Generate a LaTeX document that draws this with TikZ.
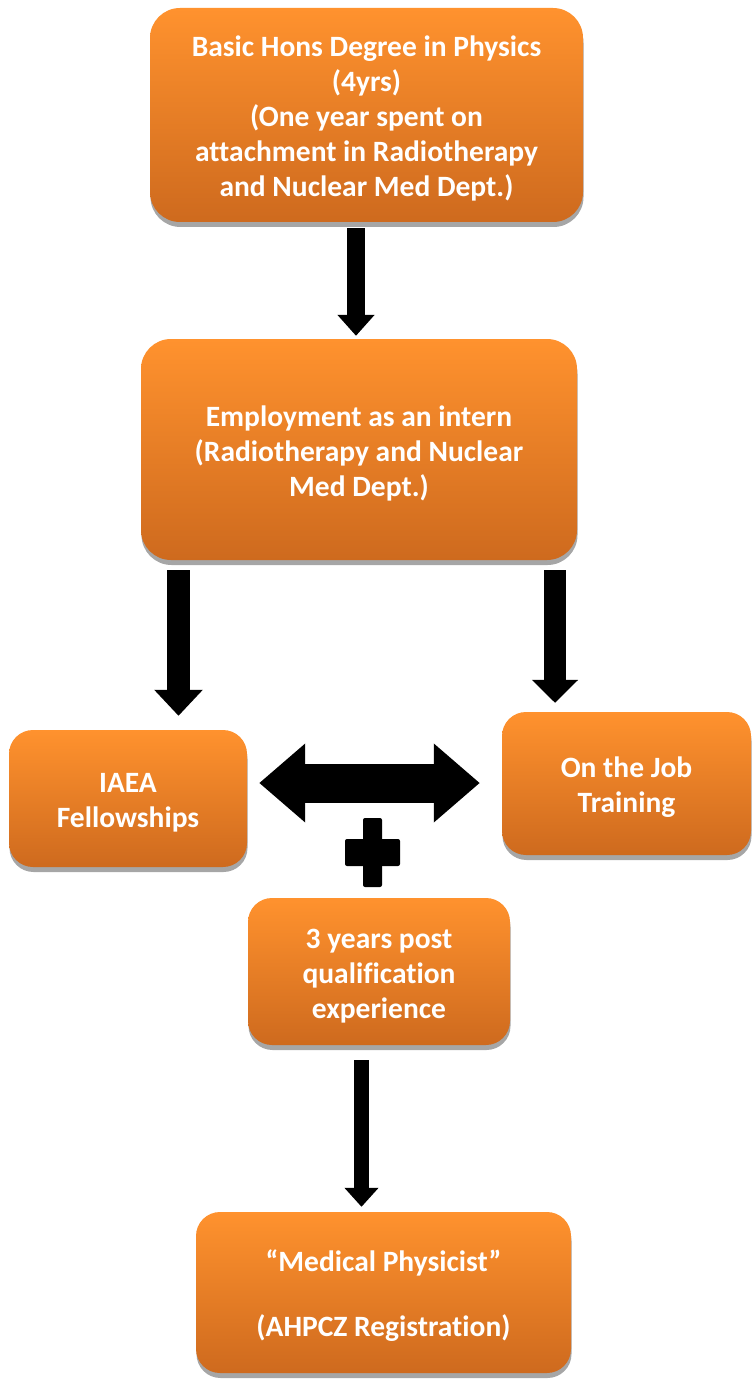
\documentclass[tikz,border=0pt]{standalone}
\usepackage{fontspec}
\setmainfont[Ligatures=NoCommon]{Carlito}
\usetikzlibrary{arrows.meta,shadows}
\definecolor{orTop}{HTML}{FF922E}
\definecolor{orBot}{HTML}{CE6A1E}
\newcommand\toppad{\rule{0pt}{28pt}}
\tikzset{
  stepbox/.style={rectangle, rounded corners=#1, top color=orTop, bottom color=orBot,
    draw=none, inner sep=0pt, align=center, text=white,
    font=\bfseries\fontsize{29.5}{35}\selectfont,
    drop shadow={shadow xshift=0.5pt, shadow yshift=-5pt, fill=black, opacity=0.35}},
  stepbox/.default=30pt,
  downarrow/.style={draw=black, line width=#1},
  downarrow/.default=18pt
}
\begin{document}
\begin{tikzpicture}[x=1pt,y=1pt]
\useasboundingbox (0,0) rectangle (752,-1380);
\fill[white] (0,0) rectangle (752,-1380);

\node[stepbox, minimum width=433pt, minimum height=214pt] (deg) at (366.5,-115)
  {\toppad Basic Hons Degree in Physics\\(4yrs)\\(One year spent on\\attachment in Radiotherapy\\and Nuclear Med Dept.)};
\node[stepbox, minimum width=436pt, minimum height=221pt] (emp) at (359,-449.5)
  {\toppad Employment as an intern\\(Radiotherapy and Nuclear\\Med Dept.)};
\node[stepbox=24pt, minimum width=238pt, minimum height=137pt] (iaea) at (128,-798.5)
  {\toppad IAEA\\Fellowships};
\node[stepbox=24pt, minimum width=249pt, minimum height=143pt] (job) at (626.5,-783.5)
  {\toppad On the Job\\Training};
\node[stepbox=24pt, minimum width=262pt, minimum height=147pt] (exp) at (379,-971.5)
  {\toppad 3 years post\\qualification\\experience};
\node[stepbox=24pt, minimum width=375pt, minimum height=161pt] (med) at (383.5,-1292.5)
  {\toppad “Medical Physicist”\\[30pt](AHPCZ Registration)};

\coordinate (a1) at (356,0);
\coordinate (a2) at (178.5,0);
\coordinate (a3) at (555,0);
\coordinate (a4) at (361.5,0);
\coordinate (dy) at (0,-783);

\draw[downarrow, -{Triangle[width=36pt,length=21pt]}, shorten <=6pt, shorten >=3pt]
  (deg.south -| a1) -- (emp.north -| a1);
\draw[downarrow=23pt, -{Triangle[width=47pt,length=26pt]}, shorten <=10pt, shorten >=14pt]
  (emp.south -| a2) -- (iaea.north -| a2);
\draw[downarrow=22pt, -{Triangle[width=45pt,length=23pt]}, shorten <=10pt, shorten >=9pt]
  (emp.south -| a3) -- (job.north -| a3);
\draw[downarrow=15pt, -{Triangle[width=33pt,length=19pt]}, shorten <=15pt, shorten >=5pt]
  (exp.south -| a4) -- (med.north -| a4);

\draw[draw=black, line width=39pt,
  {Triangle[width=76pt,length=46pt]}-{Triangle[width=76pt,length=46pt]},
  shorten <=12pt, shorten >=22pt]
  (iaea.east |- dy) -- (job.west |- dy);

\fill[black, rounded corners=2pt] (363,-818) rectangle (382,-887);
\fill[black, rounded corners=2pt] (345,-839) rectangle (400,-866);
\end{tikzpicture}
\end{document}
